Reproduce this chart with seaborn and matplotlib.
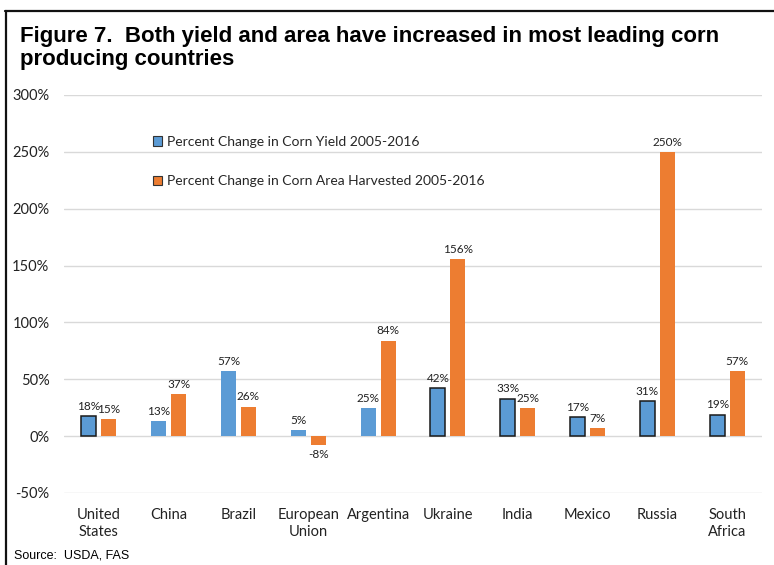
import matplotlib
matplotlib.use("Agg")
import matplotlib.pyplot as plt
from matplotlib.lines import Line2D
from matplotlib.ticker import FuncFormatter
import seaborn as sns
import pandas as pd

countries = ["United\nStates", "China", "Brazil", "European\nUnion", "Argentina",
             "Ukraine", "India", "Mexico", "Russia", "South\nAfrica"]
yield_change = [18, 13, 57, 5, 25, 42, 33, 17, 31, 19]
area_change = [15, 37, 26, -8, 84, 156, 25, 7, 250, 57]
series_names = ["Percent Change in Corn Yield 2005-2016",
                "Percent Change in Corn Area Harvested 2005-2016"]
# yield bars drawn with a dark outline
outlined_yield = [True, False, False, False, False, True, True, True, True, True]
yticks = [-50, 0, 50, 100, 150, 200, 250, 300]

df = pd.DataFrame({
    "country": countries * 2,
    "value": yield_change + area_change,
    "series": [series_names[0]] * len(countries) + [series_names[1]] * len(countries),
})

sns.set_theme(style="white")
plt.rcParams["font.family"] = ["Lato", "DejaVu Sans"]

fig = plt.figure(figsize=(7.74, 5.65), dpi=100)
ax = fig.add_axes([64 / 774, 1 - 493 / 565, (762 - 64) / 774, (493 - 95) / 565])

palette = {series_names[0]: "#5B9BD5", series_names[1]: "#ED7D31"}
sns.barplot(data=df, x="country", y="value", hue="series", palette=palette,
            order=countries, hue_order=series_names, width=0.57, gap=0.25,
            saturation=1, ax=ax, errorbar=None, linewidth=0, zorder=3)

# outline selected yield bars
yield_bars = ax.containers[0]
for patch, outlined in zip(yield_bars.patches, outlined_yield):
    if outlined:
        patch.set_edgecolor("#1a1a1a")
        patch.set_linewidth(1.1)

for cont in ax.containers:
    ax.bar_label(cont, labels=[f"{v:.0f}%" for v in cont.datavalues],
                 padding=3, fontsize=8.5, color="#222222")

ax.set_ylim(-50, 300)
ax.set_yticks(yticks)
ax.yaxis.set_major_formatter(FuncFormatter(lambda v, _: f"{v:.0f}%"))
ax.grid(axis="y", color="#D9D9D9", linewidth=1, zorder=0)
ax.set_axisbelow(True)
for s in ax.spines.values():
    s.set_visible(False)
ax.set_xlabel("")
ax.set_ylabel("")
ax.tick_params(axis="y", length=0, pad=10.5, labelsize=10.5, labelcolor="#222222")
ax.tick_params(axis="x", length=0, pad=10.5, labelsize=10.5, labelcolor="#222222")
for lbl in ax.get_xticklabels():
    lbl.set_linespacing(1.35)
    lbl.set_verticalalignment("top")

handles, labels = ax.get_legend_handles_labels()
for h in handles:
    h.set_edgecolor("#333333")
    h.set_linewidth(0.8)
ax.legend(handles, labels, loc="upper left", bbox_to_anchor=(0.119, 0.912),
          frameon=False, fontsize=10, labelspacing=2.0, handlelength=0.7,
          handleheight=0.7, handletextpad=0.3, borderaxespad=0)

# frame lines along top and left
fig.add_artist(Line2D([5 / 774, 1], [1 - 11 / 565, 1 - 11 / 565],
                      color="#111111", linewidth=1.6))
fig.add_artist(Line2D([6 / 774, 6 / 774], [0, 1 - 11 / 565],
                      color="#111111", linewidth=1.6))

fig.text(20 / 774, 1 - 26 / 565,
         "Figure 7.  Both yield and area have increased in most leading corn\nproducing countries",
         ha="left", va="top", fontsize=16, fontweight="bold",
         family="Liberation Sans", color="black", linespacing=1.12)
fig.text(14 / 774, 1 - 556 / 565, "Source:  USDA, FAS", ha="left", va="center",
         fontsize=9, family="Liberation Sans", color="black")

fig.savefig("out.png", dpi=100)
